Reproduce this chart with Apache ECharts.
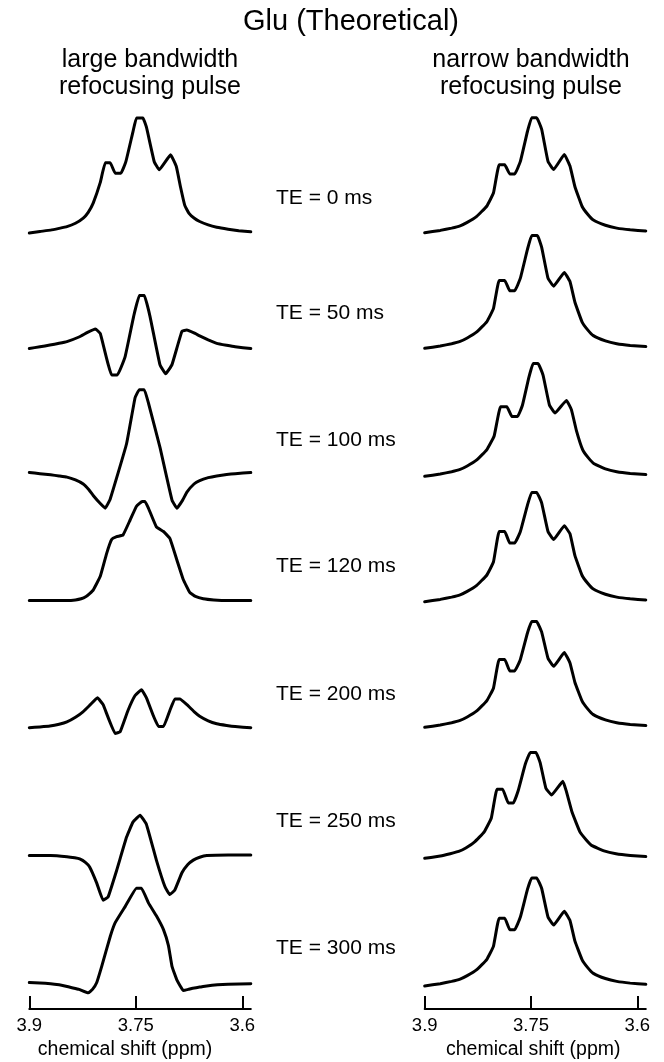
<!DOCTYPE html>
<html><head><meta charset="utf-8">
<script src="https://cdn.jsdelivr.net/npm/echarts@6/dist/echarts.min.js"></script>
<style>html,body{margin:0;padding:0;background:#fff}#c{width:664px;height:1062px}</style>
</head><body><div id="c"></div><script>
// ---------- text ----------
const chartTitle = 'Glu (Theoretical)';
const leftHeader = ['large bandwidth', 'refocusing pulse'];
const rightHeader = ['narrow bandwidth', 'refocusing pulse'];
const teLabels = ['TE = 0 ms', 'TE = 50 ms', 'TE = 100 ms', 'TE = 120 ms', 'TE = 200 ms', 'TE = 250 ms', 'TE = 300 ms'];
const xTickValues = [3.9, 3.75, 3.6];
const xAxisName = 'chemical shift (ppm)';
const xRange = [3.588, 3.9];
const yRange = [-0.5, 1.1];

// ---------- data: [ppm, intensity] ----------
const large_TE0 = [[3.900,0.00],[3.885,0.013],[3.870,0.025],[3.858,0.04],[3.847,0.055],[3.835,0.085],[3.824,0.13],[3.817,0.18],[3.810,0.26],[3.800,0.44],[3.793,0.61],[3.786,0.61],[3.779,0.52],[3.771,0.52],[3.764,0.62],[3.754,0.88],[3.749,1.00],[3.740,1.00],[3.735,0.92],[3.724,0.62],[3.717,0.55],[3.701,0.68],[3.693,0.58],[3.687,0.40],[3.681,0.24],[3.675,0.17],[3.668,0.13],[3.660,0.10],[3.648,0.07],[3.636,0.05],[3.620,0.033],[3.605,0.02],[3.588,0.01]];
const large_TE50 = [[3.900,0.00],[3.885,0.015],[3.871,0.03],[3.858,0.045],[3.847,0.06],[3.830,0.10],[3.818,0.14],[3.807,0.17],[3.800,0.13],[3.784,-0.23],[3.776,-0.23],[3.765,-0.07],[3.753,0.28],[3.745,0.46],[3.738,0.46],[3.730,0.28],[3.716,-0.14],[3.708,-0.22],[3.699,-0.14],[3.685,0.15],[3.678,0.16],[3.668,0.135],[3.660,0.11],[3.648,0.075],[3.636,0.045],[3.622,0.028],[3.610,0.015],[3.588,0.00]];
const large_TE100 = [[3.900,0.00],[3.885,-0.01],[3.870,-0.02],[3.858,-0.03],[3.847,-0.04],[3.835,-0.065],[3.824,-0.10],[3.816,-0.15],[3.810,-0.20],[3.800,-0.27],[3.793,-0.31],[3.786,-0.23],[3.763,0.25],[3.751,0.65],[3.745,0.72],[3.738,0.72],[3.732,0.60],[3.716,0.22],[3.699,-0.24],[3.692,-0.31],[3.684,-0.24],[3.678,-0.17],[3.668,-0.10],[3.660,-0.07],[3.648,-0.045],[3.636,-0.03],[3.622,-0.018],[3.610,-0.01],[3.588,0.00]];
const large_TE120 = [[3.900,0.00],[3.870,0.00],[3.847,0.00],[3.835,0.005],[3.827,0.015],[3.820,0.035],[3.815,0.06],[3.810,0.09],[3.800,0.21],[3.791,0.41],[3.784,0.53],[3.777,0.555],[3.768,0.57],[3.758,0.70],[3.749,0.82],[3.741,0.86],[3.737,0.86],[3.732,0.80],[3.721,0.64],[3.711,0.60],[3.702,0.54],[3.692,0.35],[3.683,0.18],[3.674,0.07],[3.666,0.035],[3.655,0.015],[3.640,0.005],[3.620,0.00],[3.588,0.00]];
const large_TE200 = [[3.900,0.00],[3.885,0.007],[3.871,0.015],[3.858,0.03],[3.847,0.05],[3.835,0.09],[3.824,0.14],[3.814,0.20],[3.804,0.26],[3.796,0.20],[3.779,-0.05],[3.772,-0.035],[3.761,0.15],[3.751,0.28],[3.742,0.33],[3.735,0.26],[3.725,0.10],[3.718,0.01],[3.711,0.01],[3.702,0.15],[3.695,0.25],[3.688,0.25],[3.678,0.20],[3.668,0.14],[3.660,0.10],[3.648,0.06],[3.636,0.035],[3.622,0.02],[3.610,0.01],[3.588,0.00]];
const large_TE250 = [[3.900,0.00],[3.870,0.00],[3.847,-0.01],[3.836,-0.02],[3.829,-0.03],[3.821,-0.06],[3.815,-0.10],[3.805,-0.24],[3.796,-0.39],[3.789,-0.36],[3.777,-0.13],[3.763,0.16],[3.754,0.29],[3.744,0.35],[3.735,0.27],[3.721,-0.04],[3.709,-0.27],[3.702,-0.34],[3.695,-0.30],[3.685,-0.15],[3.677,-0.08],[3.669,-0.04],[3.660,-0.015],[3.650,0.00],[3.620,0.005],[3.588,0.005]];
const large_TE300 = [[3.900,0.00],[3.885,-0.004],[3.870,-0.01],[3.858,-0.02],[3.850,-0.03],[3.840,-0.045],[3.830,-0.06],[3.817,-0.09],[3.811,-0.06],[3.805,0.00],[3.798,0.14],[3.786,0.40],[3.779,0.52],[3.765,0.66],[3.749,0.82],[3.742,0.82],[3.732,0.69],[3.721,0.58],[3.711,0.46],[3.704,0.32],[3.699,0.14],[3.692,0.02],[3.683,-0.07],[3.676,-0.06],[3.670,-0.05],[3.660,-0.04],[3.650,-0.03],[3.635,-0.02],[3.620,-0.015],[3.588,-0.01]];

const narrow_TE0 = [[3.900,0.00],[3.878,0.02],[3.862,0.04],[3.850,0.06],[3.840,0.09],[3.827,0.14],[3.8125,0.23],[3.803,0.345],[3.795,0.59],[3.787,0.59],[3.780,0.51],[3.773,0.51],[3.765,0.62],[3.755,0.88],[3.749,1.00],[3.742,1.00],[3.735,0.90],[3.726,0.62],[3.718,0.55],[3.703,0.68],[3.695,0.58],[3.688,0.40],[3.678,0.23],[3.670,0.16],[3.662,0.11],[3.645,0.065],[3.629,0.04],[3.610,0.025],[3.588,0.015]];
const narrow_TE50 = [[3.900,0.00],[3.878,0.02],[3.862,0.04],[3.850,0.06],[3.840,0.09],[3.827,0.14],[3.8125,0.23],[3.803,0.345],[3.795,0.59],[3.787,0.59],[3.780,0.50],[3.773,0.50],[3.765,0.61],[3.755,0.86],[3.749,0.98],[3.741,0.98],[3.735,0.88],[3.726,0.61],[3.718,0.54],[3.703,0.66],[3.695,0.58],[3.688,0.40],[3.678,0.23],[3.670,0.16],[3.662,0.11],[3.645,0.065],[3.629,0.04],[3.610,0.025],[3.588,0.015]];
const narrow_TE100 = [[3.900,0.00],[3.878,0.02],[3.862,0.04],[3.850,0.06],[3.840,0.09],[3.827,0.14],[3.8125,0.23],[3.802,0.35],[3.793,0.605],[3.784,0.605],[3.777,0.52],[3.769,0.52],[3.762,0.62],[3.753,0.86],[3.747,0.98],[3.740,0.98],[3.733,0.88],[3.724,0.62],[3.716,0.55],[3.700,0.66],[3.693,0.58],[3.686,0.40],[3.677,0.23],[3.669,0.16],[3.661,0.11],[3.645,0.065],[3.629,0.04],[3.610,0.025],[3.588,0.015]];
const narrow_TE120 = [[3.900,0.00],[3.878,0.02],[3.862,0.04],[3.850,0.06],[3.840,0.09],[3.827,0.14],[3.8125,0.23],[3.803,0.345],[3.795,0.61],[3.787,0.61],[3.780,0.51],[3.773,0.51],[3.765,0.61],[3.755,0.84],[3.749,0.95],[3.742,0.95],[3.735,0.86],[3.726,0.61],[3.718,0.54],[3.703,0.66],[3.695,0.59],[3.688,0.40],[3.678,0.23],[3.670,0.16],[3.662,0.11],[3.645,0.065],[3.629,0.04],[3.610,0.025],[3.588,0.015]];
const narrow_TE200 = [[3.900,0.00],[3.878,0.02],[3.862,0.04],[3.850,0.06],[3.840,0.09],[3.827,0.14],[3.8125,0.23],[3.803,0.34],[3.795,0.59],[3.787,0.59],[3.780,0.49],[3.773,0.49],[3.765,0.59],[3.755,0.82],[3.749,0.92],[3.742,0.92],[3.735,0.83],[3.726,0.60],[3.718,0.53],[3.703,0.65],[3.695,0.56],[3.688,0.39],[3.678,0.23],[3.670,0.16],[3.662,0.11],[3.645,0.065],[3.629,0.04],[3.610,0.025],[3.588,0.015]];
const narrow_TE250 = [[3.900,0.00],[3.878,0.02],[3.864,0.04],[3.852,0.06],[3.842,0.09],[3.830,0.14],[3.816,0.23],[3.806,0.35],[3.798,0.60],[3.790,0.60],[3.782,0.48],[3.775,0.48],[3.768,0.59],[3.758,0.82],[3.751,0.92],[3.743,0.92],[3.737,0.83],[3.729,0.61],[3.721,0.55],[3.705,0.67],[3.700,0.58],[3.692,0.40],[3.681,0.23],[3.672,0.16],[3.664,0.11],[3.647,0.065],[3.630,0.04],[3.610,0.025],[3.588,0.015]];
const narrow_TE300 = [[3.900,0.00],[3.878,0.02],[3.862,0.04],[3.850,0.06],[3.840,0.09],[3.827,0.14],[3.8125,0.23],[3.803,0.345],[3.795,0.59],[3.787,0.59],[3.780,0.49],[3.773,0.49],[3.765,0.60],[3.755,0.84],[3.749,0.94],[3.742,0.94],[3.735,0.85],[3.726,0.60],[3.718,0.53],[3.703,0.65],[3.695,0.57],[3.688,0.39],[3.678,0.23],[3.670,0.16],[3.662,0.11],[3.645,0.065],[3.629,0.04],[3.610,0.025],[3.588,0.015]];

const largeSeries = [large_TE0, large_TE50, large_TE100, large_TE120, large_TE200, large_TE250, large_TE300];
const narrowSeries = [narrow_TE0, narrow_TE50, narrow_TE100, narrow_TE120, narrow_TE200, narrow_TE250, narrow_TE300];

// ---------- layout (pixels) ----------
const PX_PER_UNIT = 115;
const columns = [
  { left: 29.3, width: 221.5, baselines: [233, 348.5, 472.5, 600.5, 727.7, 855.5, 982.5], data: largeSeries, header: leftHeader, headerX: 150, namePad: [0, 30, 0, 0] },
  { left: 424.7, width: 221.1, baselines: [232.7, 348.3, 476.3, 601.7, 727.3, 858.3, 986], data: narrowSeries, header: rightHeader, headerX: 531, namePad: [0, 4, 0, 0] }
];
const axisLineY = 1009;
const teLabelX = 276;
const teLabelY = [198, 313, 440, 566, 694, 821, 948];
const FONT = '"Liberation Sans", Arial, Helvetica, sans-serif';

const grid = [], xAxis = [], yAxis = [], series = [];
columns.forEach(col => {
  col.data.forEach((d, i) => {
    const idx = grid.length;
    grid.push({ left: col.left, width: col.width, top: col.baselines[i] - yRange[1] * PX_PER_UNIT, height: (yRange[1] - yRange[0]) * PX_PER_UNIT });
    xAxis.push({ gridIndex: idx, type: 'value', min: xRange[0], max: xRange[1], inverse: true, show: false });
    yAxis.push({ gridIndex: idx, type: 'value', min: yRange[0], max: yRange[1], show: false });
    series.push({ type: 'line', xAxisIndex: idx, yAxisIndex: idx, data: d, showSymbol: false, symbol: 'none', clip: false, silent: true,
      smooth: 0.1,
      lineStyle: { color: '#000', width: 3, join: 'round', cap: 'round' } });
  });
});
// axis-only grids
columns.forEach(col => {
  const idx = grid.length;
  grid.push({ left: col.left, width: col.width, top: axisLineY - 1, height: 1 });
  xAxis.push({ gridIndex: idx, type: 'value', min: xRange[0], max: xRange[1], inverse: true, position: 'bottom',
    axisLine: { show: true, onZero: false, lineStyle: { color: '#000', width: 2 } },
    axisTick: { show: true, inside: true, length: 13, customValues: xTickValues, lineStyle: { color: '#000', width: 2 } },
    axisLabel: { show: true, customValues: xTickValues, margin: 7, fontSize: 18.5, color: '#000', fontFamily: FONT, formatter: v => String(+(+v).toFixed(2)) },
    splitLine: { show: false },
    name: xAxisName, nameLocation: 'middle', nameGap: 31,
    nameTextStyle: { fontSize: 19.5, color: '#000', fontFamily: FONT, padding: col.namePad } });
  yAxis.push({ gridIndex: idx, type: 'value', show: false });
});

const graphic = [];
graphic.push({ type: 'text', x: 351, y: 22, style: { text: chartTitle, font: '29px ' + FONT, fill: '#000', textAlign: 'center', textVerticalAlign: 'middle' } });
columns.forEach(col => {
  col.header.forEach((t, k) => {
    graphic.push({ type: 'text', x: col.headerX, y: 60 + k * 27, style: { text: t, font: '25px ' + FONT, fill: '#000', textAlign: 'center', textVerticalAlign: 'middle' } });
  });
});
teLabels.forEach((t, i) => {
  graphic.push({ type: 'text', x: teLabelX, y: teLabelY[i], style: { text: t, font: '21px ' + FONT, fill: '#000', textAlign: 'left', textVerticalAlign: 'middle' } });
});

const chart = echarts.init(document.getElementById('c'), null, { renderer: 'canvas' });
chart.setOption({ animation: false, backgroundColor: '#fff', grid, xAxis, yAxis, series, graphic });
</script></body></html>
